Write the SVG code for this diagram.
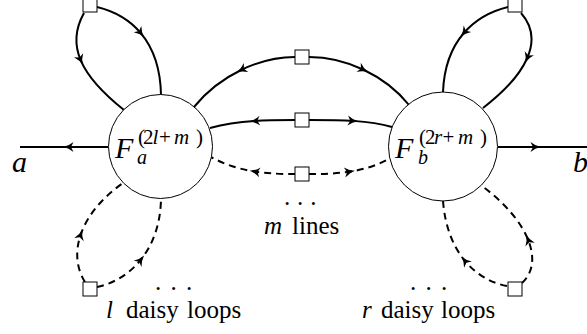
<svg xmlns="http://www.w3.org/2000/svg" width="587" height="334" viewBox="0 0 587 334">
<style>
.c{fill:none;stroke:#000;stroke-width:2}
.d{stroke-dasharray:7 5}
.nd{fill:#fff;stroke:#000;stroke-width:1}
.t{font-family:"Liberation Serif","Times New Roman",serif;fill:#000}
.i{font-style:italic}
</style>
<defs>
<marker id="arr" markerUnits="userSpaceOnUse" viewBox="-10 -10 20 20" markerWidth="20" markerHeight="20" refX="0" refY="0" orient="auto" overflow="visible">
<path d="M5,0 Q-1,-1.2 -5.5,-5 L-3,0 L-5.5,5 Q-1,1.2 5,0 Z" fill="#000" stroke="none"/>
</marker>
</defs>
<rect width="587" height="334" fill="#fff"/>
<g id="connectors">
<path class="c" marker-mid="url(#arr)" d="M108 147 L68 147 L20 147"/>
<path class="c" marker-mid="url(#arr)" d="M498 147 L536 147 L587 147"/>
<path class="c" marker-mid="url(#arr)" d="M84 13 C75 29 74 44.5 80.75 60.375 C87.5 76.25 102 92.5 124 110"/>
<path class="c" marker-mid="url(#arr)" d="M97 7 C113.5 11 129.25 19.25 141 33.375 C152.75 47.5 160.5 67.5 161 95"/>
<path class="c" marker-mid="url(#arr)" d="M508 7 C491.5 11 475.75 19.25 463.875 33 C452 46.75 444 66 443 92"/>
<path class="c" marker-mid="url(#arr)" d="M521 13 C533 26.5 534.25 42 527.125 58.25 C520 74.5 504.5 91.5 483 108"/>
<path class="c" marker-mid="url(#arr)" d="M295 57 C277.5 57 258.75 61.5 241.125 70 C223.5 78.5 207 91 194 107"/>
<path class="c" marker-mid="url(#arr)" d="M309 57 C327.5 57 346.25 61.5 363.625 69.75 C381 78 397 90 409 105"/>
<path class="c" marker-mid="url(#arr)" d="M295 120 C282.5 120 268.75 120 254.375 121 C240 122 225 124 210 128"/>
<path class="c" marker-mid="url(#arr)" d="M309 120 C325 120 339.5 120 353.25 120.875 C367 121.75 380 123.5 392 127"/>
<path class="c d" marker-mid="url(#arr)" d="M295 174 C282.5 174 268.75 173.75 254.5 171.5 C240.25 169.25 225.5 165 211 157"/>
<path class="c d" marker-mid="url(#arr)" d="M309 174 C322.5 174 336.25 173.75 350 171.625 C363.75 169.5 377.5 165.5 390 158"/>
<path class="c d" marker-mid="url(#arr)" d="M85 282 C76.5 268.5 74.75 251.75 80.75 234.375 C86.75 217 100.5 199 123 183"/>
<path class="c d" marker-mid="url(#arr)" d="M97 287 C113.5 283.5 129.25 274.25 141 259.5 C152.75 244.75 160.5 224.5 161 199"/>
<path class="c d" marker-mid="url(#arr)" d="M507 286 C491 283 476 274.5 464.5 260.375 C453 246.25 445 226.5 443 201"/>
<path class="c d" marker-mid="url(#arr)" d="M522 283 C533.5 272.5 535 256.75 528 239.5 C521 222.25 505.5 203.5 482 186"/>
</g>
<g id="Fa">
<circle class="nd" cx="160.5" cy="146.5" r="52"/>
<text class="t"><tspan class="i" x="115" y="158" font-size="30">F</tspan><tspan class="i" x="137" y="164" font-size="20">a</tspan><tspan font-size="21" x="138" y="144">(</tspan><tspan font-size="21" x="143">2</tspan><tspan class="i" font-size="21" x="152.5">l</tspan><tspan font-size="21" x="159">+</tspan><tspan class="i" font-size="21" x="174">m</tspan><tspan font-size="21" x="196">)</tspan></text>
</g>
<g id="Fb">
<circle class="nd" cx="443" cy="146.5" r="54.5"/>
<text class="t"><tspan class="i" x="395" y="158" font-size="30">F</tspan><tspan class="i" x="418" y="164" font-size="20">b</tspan><tspan font-size="21" x="419" y="144">(</tspan><tspan font-size="21" x="425">2</tspan><tspan class="i" font-size="21" x="434">r</tspan><tspan font-size="21" x="442.5">+</tspan><tspan class="i" font-size="21" x="458">m</tspan><tspan font-size="21" x="480">)</tspan></text>
</g>
<g id="sq_tl"><rect class="nd" x="83" y="-2" width="14" height="14"/></g>
<g id="sq_tr"><rect class="nd" x="508" y="-2" width="14" height="14"/></g>
<g id="sq_m1"><rect class="nd" x="295" y="50" width="14" height="14"/></g>
<g id="sq_m2"><rect class="nd" x="295" y="113" width="14" height="14"/></g>
<g id="sq_m3"><rect class="nd" x="295" y="167" width="14" height="14"/></g>
<g id="sq_bl"><rect class="nd" x="83" y="282" width="14" height="14"/></g>
<g id="sq_br"><rect class="nd" x="508" y="282" width="14" height="14"/></g>
<g id="labels">
<text class="t i" x="12" y="172" font-size="30">a</text>
<text class="t i" x="573" y="172" font-size="30">b</text>
<text class="t" x="284" y="205" font-size="25" letter-spacing="0.3">. . .</text>
<text class="t" y="234" font-size="25"><tspan class="i" x="264">m</tspan><tspan x="292">lines</tspan></text>
<text class="t" x="155" y="290" font-size="25" letter-spacing="1.5">. . .</text>
<text class="t" x="410" y="290" font-size="25" letter-spacing="1.5">. . .</text>
<text class="t" y="318" font-size="25"><tspan class="i" x="106">l</tspan><tspan x="126">daisy</tspan><tspan x="187">loops</tspan></text>
<text class="t" y="318" font-size="25"><tspan class="i" x="362">r</tspan><tspan x="381">daisy</tspan><tspan x="441">loops</tspan></text>
</g>
</svg>
